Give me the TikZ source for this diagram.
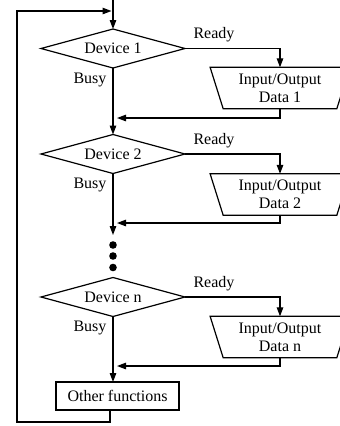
\documentclass[tikz,border=0pt]{standalone}
\usepackage{fontspec}
\setmainfont{Liberation Serif}
\usetikzlibrary{shapes.geometric,arrows.meta,calc}

\tikzset{
  flow/.style={line width=1.2pt},
  arr/.style={flow,-{Triangle[length=9pt,width=6.5pt]}},
  decision/.style={diamond,draw,flow,aspect=3.7,minimum width=144pt,minimum height=39pt,inner sep=1pt,outer sep=0pt},
  iobox/.style={trapezium,draw,flow,trapezium angle=72.5,shape border rotate=180,minimum width=140pt,minimum height=38pt,inner sep=1pt,outer sep=0pt,align=center},
  procbox/.style={rectangle,draw,flow,minimum width=123pt,minimum height=28pt,inner sep=1pt,outer sep=0pt},
  lbl/.style={inner sep=0pt},
  dot/.style={circle,fill=black,inner sep=0pt,minimum size=7.6pt}
}

\begin{document}
\begin{tikzpicture}[x=1pt,y=-1pt,font=\fontsize{16}{18}\selectfont]
\useasboundingbox (0,0) rectangle (340,426);
\clip (0,0) rectangle (340,426);

% decisions
\node[decision] (d1) at (113,48.5) {Device 1};
\node[decision] (d2) at (113,154) {Device 2};
\node[decision] (dn) at (113,297) {Device n};

% input/output blocks
\node[iobox] (t1) at (280,88) {Input/Output\\Data 1};
\node[iobox] (t2) at (280,194.5) {Input/Output\\Data 2};
\node[iobox] (tn) at (280,337) {Input/Output\\Data n};

% remaining work
\node[procbox] (other) at (117.5,396) {Other functions};

% branch labels
\node[lbl] (r1) at (214,35) {Ready};
\node[lbl] (r2) at (214,140.5) {Ready};
\node[lbl] (rn) at (214,283.5) {Ready};
\node[lbl] (b1) at (90,79.5) {Busy};
\node[lbl] (b2) at (90,185) {Busy};
\node[lbl] (bn) at (90,328) {Busy};

% ellipsis between device 2 and device n
\node[dot] (e1) at (113,245) {};
\node[dot] (e2) at (113,256) {};
\node[dot] (e3) at (113,267.5) {};

% helper points
\coordinate (top) at (113,0);
\coordinate (join) at (111.5,11);
\coordinate (m1) at (117,118);
\coordinate (m2) at (117,223);
\coordinate (mn) at (117,366);
\coordinate (s2) at (113,235);
\coordinate (exit) at (110,410);
\coordinate (low) at (110,422);
\coordinate (lowleft) at (17,422);
\coordinate (upleft) at (17,11);

% entry and loop back
\draw[arr] (top) -- (d1.north);
\draw[arr] (exit) -- (low) -- (lowleft) -- (upleft) -- (join);

% busy path
\draw[arr] (d1.south) -- (d2.north);
\draw[arr] (d2.south) -- (s2);
\draw[arr] (dn.south) -- (dn.south |- other.north);

% ready paths
\draw[arr] (d1.east) -| (t1.north);
\draw[arr] (d2.east) -| (t2.north);
\draw[arr] (dn.east) -| (tn.north);

% returns
\draw[arr] (t1.south) |- (m1);
\draw[arr] (t2.south) |- (m2);
\draw[arr] (tn.south) |- (mn);
\end{tikzpicture}
\end{document}
